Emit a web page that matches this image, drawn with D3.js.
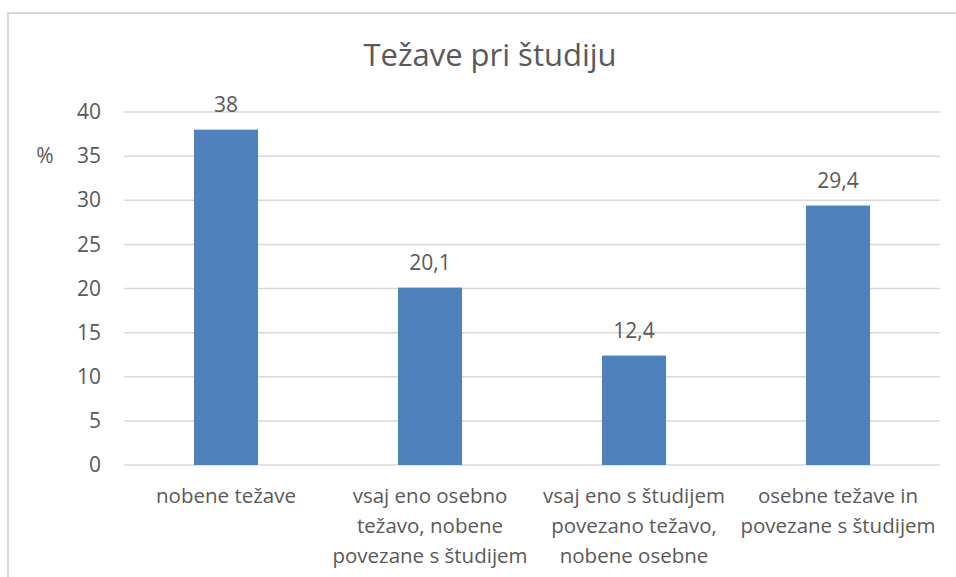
<!DOCTYPE html>
<html>
<head>
<meta charset="utf-8">
<script src="https://cdn.jsdelivr.net/npm/d3@7"></script>
<style>
  body { margin:0; background:#fff; }
  text { font-family:"Open Sans", sans-serif; fill:#595959; }
</style>
</head>
<body>
<div id="canvas"></div>
<script>
// chart data
var categories = [
  "nobene težave",
  "vsaj eno osebno težavo, nobene povezane s študijem",
  "vsaj eno s študijem povezano težavo, nobene osebne",
  "osebne težave in povezane s študijem"
];
var values = [38, 20.1, 12.4, 29.4];
var yTicks = [0, 5, 10, 15, 20, 25, 30, 35, 40];
var title = "Težave pri študiju";

var W = 956, H = 577;
var m = {t:112, r:16, b:112, l:124};
var w = W - m.l - m.r, h = H - m.t - m.b;

var svg = d3.select('#canvas').append('svg')
    .attr('width', W).attr('height', H);

// chart frame (runs off right/bottom edge)
svg.append('rect')
    .attr('x', 8).attr('y', 13)
    .attr('width', W).attr('height', H)
    .attr('fill', 'none').attr('stroke', '#d9d9d9').attr('stroke-width', 2);

svg.append('text')
    .attr('x', 490).attr('y', 66)
    .attr('text-anchor', 'middle')
    .style('font-size', '31px')
    .text(title);

var plot = svg.append('g').attr('transform', 'translate(' + m.l + ',' + m.t + ')');

var x = d3.scaleBand().domain(categories).range([0, w]);
var y = d3.scaleLinear().domain([0, 40]).range([h, 0]);

// gridlines
plot.selectAll('.grid').data(yTicks).enter()
    .append('line').attr('class', 'grid')
    .attr('x1', 0).attr('x2', w)
    .attr('y1', function(d){ return y(d); })
    .attr('y2', function(d){ return y(d); })
    .attr('stroke', '#d9d9d9').attr('stroke-width', 1.5);

// y axis labels
var yAxis = d3.axisLeft(y).tickValues(yTicks).tickSize(0).tickPadding(23);
var ya = plot.append('g').call(yAxis);
ya.select('.domain').remove();
ya.selectAll('text').style('font-size', '21px').attr('fill', '#595959').style('font-family', '"Open Sans", sans-serif');

svg.append('text')
    .attr('x', 45).attr('y', y(35) + m.t + 7)
    .attr('text-anchor', 'middle')
    .style('font-size', '21px')
    .text('%');

// bars
var barW = x.bandwidth() * 0.314;
plot.selectAll('.bar').data(values).enter()
    .append('rect').attr('class', 'bar')
    .attr('x', function(d, i){ return x(categories[i]) + (x.bandwidth() - barW) / 2; })
    .attr('y', function(d){ return y(d); })
    .attr('width', barW)
    .attr('height', function(d){ return h - y(d); })
    .attr('fill', '#4f81bd');

// value labels
plot.selectAll('.lbl').data(values).enter()
    .append('text').attr('class', 'lbl')
    .attr('x', function(d, i){ return x(categories[i]) + x.bandwidth() / 2; })
    .attr('y', function(d){ return y(d) - 18; })
    .attr('text-anchor', 'middle')
    .style('font-size', '21px')
    .text(function(d){ return String(d).replace('.', ','); });

// category labels, wrapped to band width
var xl = plot.selectAll('.cat').data(categories).enter()
    .append('text').attr('class', 'cat')
    .attr('x', function(d){ return x(d) + x.bandwidth() / 2; })
    .attr('y', h + 38)
    .attr('text-anchor', 'middle')
    .style('font-size', '20.5px');

xl.each(function(d){
    var t = d3.select(this), words = d.split(' '), line = [];
    var span = t.append('tspan').attr('x', t.attr('x')).attr('dy', 0);
    words.forEach(function(wd){
        line.push(wd);
        span.text(line.join(' '));
        if (span.node().getComputedTextLength() > x.bandwidth() - 2 && line.length > 1) {
            line.pop();
            span.text(line.join(' '));
            line = [wd];
            span = t.append('tspan').attr('x', t.attr('x')).attr('dy', 30).text(wd);
        }
    });
});
</script>
</body>
</html>
